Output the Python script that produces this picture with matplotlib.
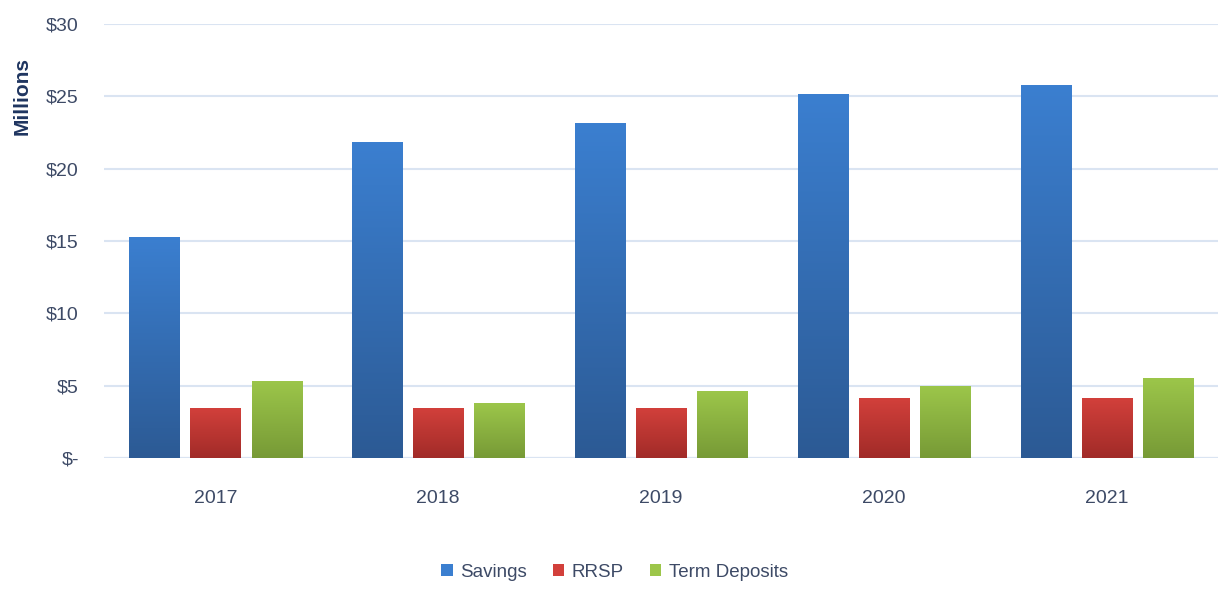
import numpy as np
import matplotlib.pyplot as plt
import matplotlib.colors as colors
from matplotlib.patches import Patch

years = ['2017', '2018', '2019', '2020', '2021']
savings = [15.25, 21.85, 23.15, 25.2, 25.8]
rrsp = [3.45, 3.45, 3.45, 4.15, 4.15]
term_deposits = [5.35, 3.8, 4.6, 4.95, 5.5]
series_names = ['Savings', 'RRSP', 'Term Deposits']
yticks = [0, 5, 10, 15, 20, 25, 30]
ytick_labels = ['$-', '$5', '$10', '$15', '$20', '$25', '$30']

# (top colour, bottom colour) for the gradient fills
grads = [('#3b7fd0', '#2c5a94'), ('#d2403b', '#a12b28'), ('#9cc64a', '#779a36')]

text_color = '#3d4a66'
plt.rcParams['font.family'] = ['Liberation Sans', 'DejaVu Sans']

fig = plt.figure(figsize=(12.22, 5.9), dpi=100)
ax = fig.add_axes([0.085, 0.224, 0.912, 0.735])

x = np.arange(len(years))
width = 0.225
step = 0.275
series = [savings, rrsp, term_deposits]

grad = np.linspace(0, 1, 256).reshape(-1, 1)
for k, vals in enumerate(series):
    top, bot = grads[k]
    cmap = colors.LinearSegmentedColormap.from_list('g%d' % k, [top, bot])
    bars = ax.bar(x + (k - 1) * step, vals, width, color=bot, zorder=3,
                  edgecolor='none')
    for b in bars:
        x0, y0 = b.get_x(), b.get_y()
        im = ax.imshow(grad, cmap=cmap, aspect='auto', zorder=3,
                       extent=[x0, x0 + b.get_width(), y0, y0 + b.get_height()],
                       origin='upper', interpolation='bilinear')
        im.set_clip_path(b)

ax.set_xlim(-0.5, 4.5)
ax.set_ylim(0, 30)
ax.set_yticks(yticks)
ax.set_yticklabels(ytick_labels)
ax.set_xticks(x)
ax.set_xticklabels(years)
ax.grid(axis='y', color='#dae4f2', linewidth=1.5, zorder=0)
ax.axhline(0, color='#c9d7ea', linewidth=1.5, zorder=1)
for s in ax.spines.values():
    s.set_visible(False)
ax.tick_params(axis='both', length=0, labelsize=14, labelcolor=text_color)
ax.tick_params(axis='y', pad=18)
ax.tick_params(axis='x', pad=23)

fig.text(0.018, 0.838, 'Millions', rotation=90, ha='center', va='center',
         fontsize=15, fontweight='bold', color='#1f3560')

handles = [Patch(facecolor=grads[k][0], edgecolor='none') for k in range(3)]
fig.legend(handles, series_names, loc='center', bbox_to_anchor=(0.503, 0.03),
           ncol=3, frameon=False, fontsize=13.5, handlelength=0.6,
           handleheight=0.6, handletextpad=0.4, columnspacing=1.4,
           labelcolor=text_color)

fig.savefig('out.png', dpi=100)
